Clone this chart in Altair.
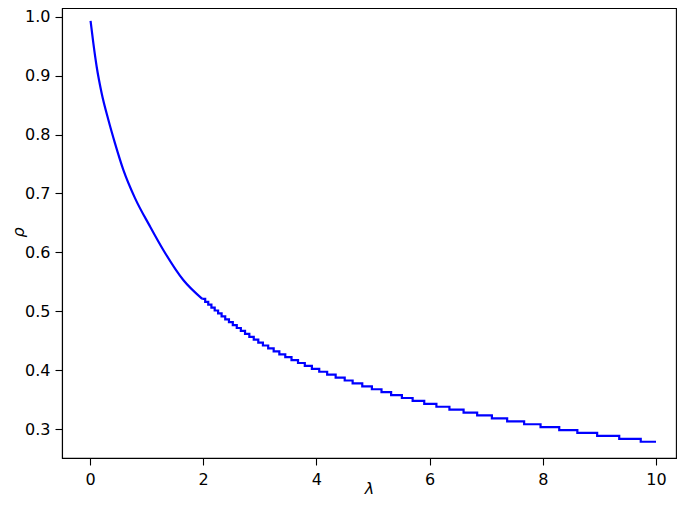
import altair as alt
import pandas as pd

# Smooth (steep) beginning of the curve
lam_smooth = [0.01, 0.059, 0.118, 0.206, 0.324, 0.442, 0.589, 0.795, 1.06, 1.295, 1.648, 1.983]
rho_smooth = [0.993, 0.955, 0.915, 0.870, 0.825, 0.785, 0.740, 0.692, 0.644, 0.604, 0.553, 0.521]

# Visible staircase: start of each tread (lambda) and its level (rho)
lam_step = [1.983, 2.035, 2.089, 2.145, 2.203, 2.263, 2.325, 2.389, 2.455, 2.523,
            2.593, 2.665, 2.739, 2.815, 2.893, 2.973, 3.055, 3.148, 3.245, 3.345,
            3.45, 3.56, 3.675, 3.795, 3.92, 4.05, 4.19, 4.34, 4.50, 4.64,
            4.81, 4.98, 5.15, 5.32, 5.51, 5.70, 5.905, 6.12, 6.35, 6.60,
            6.84, 7.10, 7.37, 7.67, 7.96, 8.29, 8.61, 8.96, 9.35, 9.73, 10.0]
rho_step = [0.5210, 0.5160, 0.5111, 0.5061, 0.5012, 0.4962, 0.4913, 0.4863, 0.4814, 0.4764,
            0.4715, 0.4665, 0.4616, 0.4566, 0.4517, 0.4467, 0.4418, 0.4368, 0.4319, 0.4269,
            0.4220, 0.4170, 0.4121, 0.4071, 0.4022, 0.3972, 0.3923, 0.3873, 0.3824, 0.3774,
            0.3725, 0.3675, 0.3626, 0.3576, 0.3527, 0.3477, 0.3428, 0.3378, 0.3329, 0.3279,
            0.3230, 0.3180, 0.3131, 0.3081, 0.3032, 0.2982, 0.2933, 0.2883, 0.2834, 0.2784, 0.2784]

x_ticks = [0, 2, 4, 6, 8, 10]
y_ticks = [0.3, 0.4, 0.5, 0.6, 0.7, 0.8, 0.9, 1.0]

df_smooth = pd.DataFrame({"lam": lam_smooth, "rho": rho_smooth})
df_step = pd.DataFrame({"lam": lam_step, "rho": rho_step})

FONT = "DejaVu Sans"

x_enc = alt.X(
    "lam:Q",
    scale=alt.Scale(domain=[-0.4947, 10.353], nice=False, zero=False),
    axis=alt.Axis(
        values=x_ticks, format="d", title="λ", grid=False,
        labelFont=FONT, labelFontSize=16, labelColor="black", labelPadding=6,
        labelFlush=False, labelOverlap=False,
        tickSize=7, tickColor="black", tickWidth=1.1,
        domainColor="black", domainWidth=1.1,
        titleFont=FONT, titleFontSize=16, titleFontStyle="italic",
        titleFontWeight="normal", titleColor="black",
        titleY=35, titleBaseline="alphabetic",
    ),
)
y_enc = alt.Y(
    "rho:Q",
    scale=alt.Scale(domain=[0.2508, 1.0148], nice=False, zero=False),
    axis=alt.Axis(
        values=y_ticks, format=".1f", title="ρ", grid=False,
        labelFont=FONT, labelFontSize=16, labelColor="black", labelPadding=5,
        labelFlush=False, labelOverlap=False,
        tickSize=7, tickColor="black", tickWidth=1.1,
        domainColor="black", domainWidth=1.1,
        titleFont=FONT, titleFontSize=16, titleFontStyle="italic",
        titleFontWeight="normal", titleColor="black",
        titleX=-44, titleY=224, titleAngle=270,
        titleAlign="center", titleBaseline="middle",
    ),
)

smooth = alt.Chart(df_smooth).mark_line(
    color="#0000ff", strokeWidth=2.2, interpolate="monotone"
).encode(x=x_enc, y=y_enc)

steps = alt.Chart(df_step).mark_line(
    color="#0000ff", strokeWidth=2.2, interpolate="step-after"
).encode(x=x_enc, y=y_enc)

chart = alt.layer(smooth, steps).properties(
    width=614,
    height=450,
    autosize=alt.AutoSizeParams(type="none"),
    padding={"left": 54, "top": 0, "right": 1, "bottom": 40},
    background="white",
).configure_view(stroke="black", strokeWidth=1.1)

chart.save("out.html", embed_options={"renderer": "svg", "actions": False})
